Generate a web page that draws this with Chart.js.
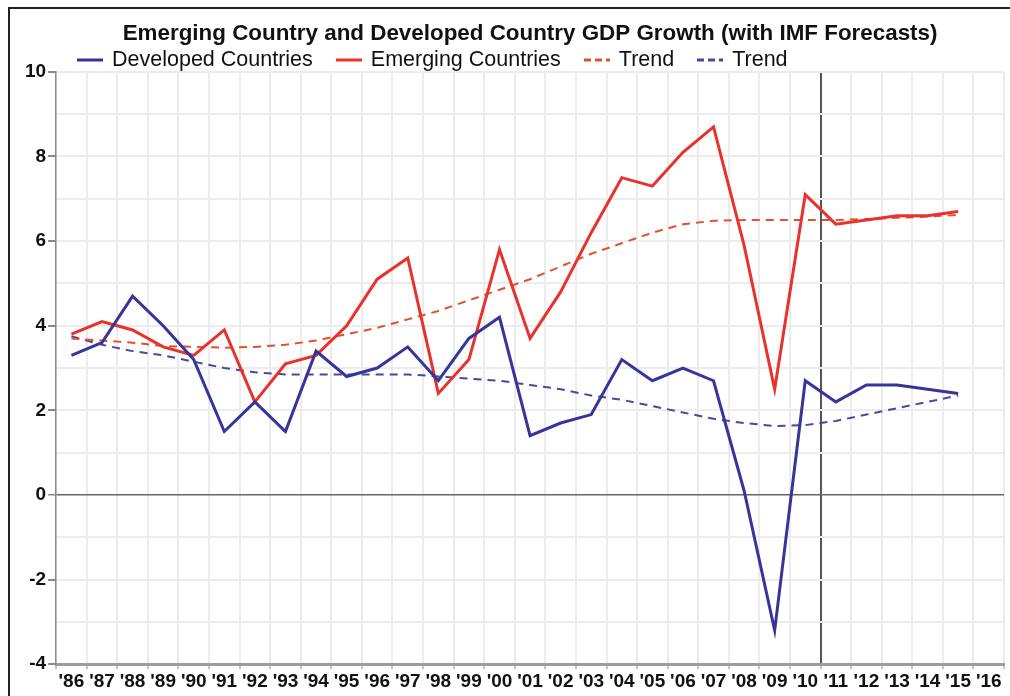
<!DOCTYPE html>
<html lang="en">
<head>
  <meta charset="UTF-8">
  <title>Emerging Country and Developed Country GDP Growth</title>
  <script src="https://cdn.jsdelivr.net/npm/chart.js"></script>
  <style>
    body {
      margin: 0;
      background: #fff;
      font-family: "Liberation Sans", Arial, sans-serif;
    }
    .frame {
      position: absolute;
      left: 8px;
      top: 7px;
      width: 1010px;
      height: 700px;
      border: 2px solid #222;
    }
    .chart-box {
      position: absolute;
      left: 0;
      top: 0;
      width: 1010px;
      height: 696px;
    }
    .legend {
      position: absolute;
      left: 77px;
      top: 47px;
      display: flex;
      align-items: center;
      font-size: 21.5px;
      color: #111;
      white-space: nowrap;
    }
    .legend svg {
      margin-right: 9px;
    }
    .legend span {
      margin-right: 23px;
    }
  </style>
</head>
<body>
  <div class="frame"></div>
  <div class="chart-box">
    <canvas id="gdpChart"></canvas>
  </div>
  <div class="legend" id="legend"></div>

  <script>
    const years = ["'86", "'87", "'88", "'89", "'90", "'91", "'92", "'93", "'94", "'95",
      "'96", "'97", "'98", "'99", "'00", "'01", "'02", "'03", "'04", "'05",
      "'06", "'07", "'08", "'09", "'10", "'11", "'12", "'13", "'14", "'15", "'16"];

    const developed = [3.3, 3.6, 4.7, 4.0, 3.2, 1.5, 2.2, 1.5, 3.4, 2.8,
      3.0, 3.5, 2.7, 3.7, 4.2, 1.4, 1.7, 1.9, 3.2, 2.7,
      3.0, 2.7, 0.1, -3.2, 2.7, 2.2, 2.6, 2.6, 2.5, 2.4, null];

    const emerging = [3.8, 4.1, 3.9, 3.5, 3.3, 3.9, 2.2, 3.1, 3.3, 4.0,
      5.1, 5.6, 2.4, 3.2, 5.8, 3.7, 4.8, 6.2, 7.5, 7.3,
      8.1, 8.7, 5.9, 2.5, 7.1, 6.4, 6.5, 6.6, 6.6, 6.7, null];

    const emergingTrend = [3.7, 3.65, 3.6, 3.52, 3.5, 3.48, 3.5, 3.55, 3.65, 3.8,
      3.95, 4.15, 4.35, 4.6, 4.85, 5.1, 5.4, 5.7, 5.95, 6.2,
      6.4, 6.48, 6.5, 6.5, 6.5, 6.5, 6.52, 6.55, 6.58, 6.62, null];

    const developedTrend = [3.75, 3.55, 3.4, 3.3, 3.15, 3.0, 2.9, 2.85, 2.85, 2.85,
      2.85, 2.85, 2.8, 2.75, 2.7, 2.6, 2.5, 2.35, 2.25, 2.1,
      1.95, 1.8, 1.7, 1.63, 1.65, 1.75, 1.9, 2.05, 2.2, 2.35, null];

    const yTicks = [-4, -2, 0, 2, 4, 6, 8, 10];
    const forecastStart = 25; // grid line between '10 and '11

    const blue = '#35359a';
    const red = '#e8322b';
    const redTrend = '#e2512f';
    const blueTrend = '#4848a0';
    const tickFont = { family: '"Liberation Sans", Arial, sans-serif', size: 19, weight: 'bold' };

    const datasets = [
      { label: 'Developed Countries', data: developed, borderColor: blue, borderWidth: 3 },
      { label: 'Emerging Countries', data: emerging, borderColor: red, borderWidth: 3 },
      { label: 'Trend', data: emergingTrend, borderColor: redTrend, borderWidth: 2, borderDash: [8, 6] },
      { label: 'Trend', data: developedTrend, borderColor: blueTrend, borderWidth: 2, borderDash: [8, 6] }
    ];

    // legend in html, drawn from the dataset styles
    const legendEl = document.getElementById('legend');
    datasets.forEach(ds => {
      const dash = ds.borderDash ? 'stroke-dasharray="7 4"' : '';
      legendEl.insertAdjacentHTML('beforeend',
        '<svg width="26" height="6"><line x1="0" y1="3" x2="26" y2="3" stroke="' + ds.borderColor +
        '" stroke-width="3" ' + dash + '/></svg><span>' + ds.label + '</span>');
    });

    const ctx = document.getElementById('gdpChart').getContext('2d');
    new Chart(ctx, {
      type: 'line',
      data: {
        labels: years,
        datasets: datasets.map(ds => Object.assign({
          fill: false,
          pointRadius: 0,
          tension: 0
        }, ds))
      },
      options: {
        responsive: true,
        maintainAspectRatio: false,
        animation: false,
        layout: {
          padding: { left: 23, right: 6, top: 0, bottom: 2 }
        },
        scales: {
          x: {
            offset: true,
            grid: {
              offset: true,
              color: c => c.index === forecastStart ? '#555' : '#ececec',
              lineWidth: 2,
              tickColor: '#c8c8c8',
              tickLength: 5
            },
            border: { color: '#9c9c9c', width: 3 },
            ticks: {
              autoSkip: false,
              maxRotation: 0,
              padding: 1,
              color: '#111',
              font: tickFont
            }
          },
          y: {
            min: -4,
            max: 10,
            grid: {
              color: c => c.tick.value === 0 ? '#666' : '#ececec',
              lineWidth: c => c.tick.value === 0 ? 1.5 : 2,
              tickColor: c => yTicks.includes(c.tick.value) ? '#888' : 'transparent',
              tickLength: 8
            },
            border: { color: '#8a8a8a', width: 1.5 },
            ticks: {
              stepSize: 1,
              padding: 2,
              color: '#111',
              font: tickFont,
              callback: v => yTicks.includes(v) ? v : ''
            }
          }
        },
        plugins: {
          legend: { display: false },
          tooltip: { enabled: false },
          title: {
            display: true,
            fullSize: false,
            text: 'Emerging Country and Developed Country GDP Growth (with IMF Forecasts)',
            color: '#111',
            font: { family: '"Liberation Sans", Arial, sans-serif', size: 22.4, weight: 'bold' },
            padding: { top: 20, bottom: 25 }
          }
        }
      }
    });
  </script>
</body>
</html>
